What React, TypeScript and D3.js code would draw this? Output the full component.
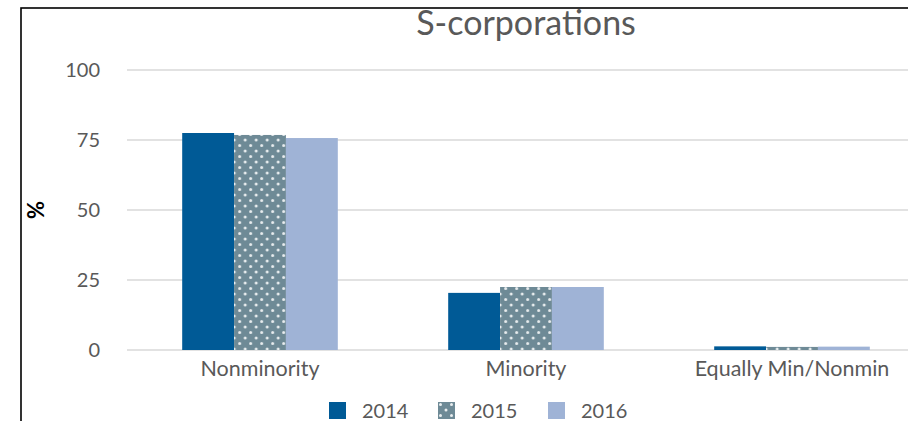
import { useEffect, useRef } from "react";
import * as d3 from "d3";

const categories = ["Nonminority", "Minority", "Equally Min/Nonmin"];
const years = ["2014", "2015", "2016"];
const values2014 = [77.5, 20.4, 1.3];
const values2015 = [76.8, 22.5, 1.1];
const values2016 = [75.7, 22.5, 1.2];
const yTicks = [0, 25, 50, 75, 100];

const W = 908;
const H = 421;
const FONT = "Lato, 'Open Sans', sans-serif";

export default function App() {
    const svgRef = useRef<SVGSVGElement>(null);

    useEffect(() => {
        if (!svgRef.current) return;
        const svg = d3.select(svgRef.current);
        svg.selectAll("*").remove();

        const series = [values2014, values2015, values2016];
        const colors = ["#005A96", "#6E8A96", "#9FB3D6"];

        // dotted pattern for 2015
        const defs = svg.append("defs");
        const pat = defs.append("pattern")
            .attr("id", "dots")
            .attr("patternUnits", "userSpaceOnUse")
            .attr("width", 11)
            .attr("height", 11);
        pat.append("rect").attr("width", 11).attr("height", 11).style("fill", colors[1]);
        [[2.5, 2.5], [8, 8]].forEach(([cx, cy]) => {
            pat.append("circle")
                .attr("cx", cx)
                .attr("cy", cy)
                .attr("r", 1.5)
                .style("fill", "#ffffff")
                .style("opacity", 0.85);
        });
        const fillFor = (i: number) => (i === 1 ? "url(#dots)" : colors[i]);

        // outer frame
        svg.append("rect")
            .attr("x", 21)
            .attr("y", 8)
            .attr("width", W + 40)
            .attr("height", H + 40)
            .style("fill", "#fff")
            .style("stroke", "#000")
            .style("stroke-width", 1.6);

        const x0 = d3.scaleBand<string>()
            .domain(categories)
            .range([127, 925])
            .paddingInner(0.415)
            .paddingOuter(0.2075);
        const x1 = d3.scaleBand<string>()
            .domain(years)
            .range([0, x0.bandwidth()])
            .padding(0);
        const y = d3.scaleLinear().domain([0, 100]).range([350, 70]);

        // gridlines
        svg.append("g")
            .selectAll("line")
            .data(yTicks)
            .enter()
            .append("line")
            .attr("x1", 127)
            .attr("x2", W)
            .attr("y1", d => y(d))
            .attr("y2", d => y(d))
            .style("stroke", "#d9d9d9")
            .style("stroke-width", 1.6);

        // tick labels
        svg.append("g")
            .selectAll("text")
            .data(yTicks)
            .enter()
            .append("text")
            .attr("x", 100)
            .attr("y", d => y(d))
            .attr("dy", "0.35em")
            .attr("text-anchor", "end")
            .style("fill", "#595959")
            .style("font-family", FONT)
            .style("font-size", "20px")
            .text(d => d);

        // bars
        categories.forEach((cat, ci) => {
            const g = svg.append("g").attr("transform", `translate(${x0(cat)},0)`);
            years.forEach((yr, si) => {
                const v = series[si][ci];
                g.append("rect")
                    .attr("x", x1(yr)!)
                    .attr("y", y(v))
                    .attr("width", x1.bandwidth())
                    .attr("height", y(0) - y(v))
                    .style("fill", fillFor(si));
            });
        });

        // category labels
        svg.append("g")
            .selectAll("text")
            .data(categories)
            .enter()
            .append("text")
            .attr("x", d => x0(d)! + x0.bandwidth() / 2)
            .attr("y", 376)
            .attr("text-anchor", "middle")
            .style("fill", "#595959")
            .style("font-family", FONT)
            .style("font-size", "21.5px")
            .text(d => d);

        // title
        svg.append("text")
            .attr("x", (127 + 925) / 2)
            .attr("y", 35)
            .attr("text-anchor", "middle")
            .style("fill", "#595959")
            .style("font-family", FONT)
            .style("font-size", "34px")
            .text("S-corporations");

        // y axis title
        svg.append("text")
            .attr("transform", "translate(44,210) rotate(-90)")
            .attr("text-anchor", "middle")
            .style("fill", "#000")
            .style("font-family", FONT)
            .style("font-weight", "700")
            .style("font-size", "22px")
            .text("%");

        // legend
        const legendX = [329, 438, 548];
        years.forEach((yr, i) => {
            const lg = svg.append("g").attr("transform", `translate(${legendX[i]},402)`);
            lg.append("rect")
                .attr("width", 17)
                .attr("height", 17)
                .style("fill", fillFor(i));
            lg.append("text")
                .attr("x", 33)
                .attr("y", 16)
                .style("fill", "#595959")
                .style("font-family", FONT)
                .style("font-size", "20px")
                .text(yr);
        });
    }, []);

    return (
        <svg
            ref={svgRef}
            width={W}
            height={H}
            style={{ position: "absolute", left: 0, top: 0, background: "#fff" }}
        />
    );
}
